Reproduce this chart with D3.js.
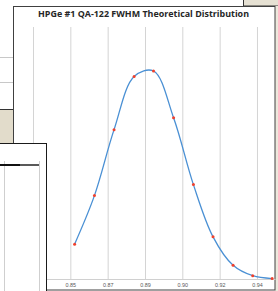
<!DOCTYPE html>
<html>
<head>
<meta charset="utf-8">
<script src="https://cdn.jsdelivr.net/npm/d3@7"></script>
<style>
  html, body { margin: 0; padding: 0; background: #fff; }
  svg { display: block; }
</style>
</head>
<body>
<div id="chart"></div>
<script>
// Datos (FWHM vs densidad teórica)
const fwhm = [0.8520, 0.8613, 0.8705, 0.8799, 0.8890, 0.8984, 0.9077, 0.9169, 0.9263, 0.9355, 0.9446];
const density = [3.8, 9.1, 16.3, 22.1, 22.7, 17.6, 10.3, 4.6, 1.5, 0.36, 0.05];
const tickValues = [0.8325, 0.85, 0.8675, 0.885, 0.9025, 0.92, 0.9375];
const tickLabels = ["0.83", "0.85", "0.87", "0.89", "0.90", "0.92", "0.94"];
const title = "HPGe #1 QA-122 FWHM Theoretical Distribution";

const W = 278, H = 291;
const svg = d3.select("#chart").append("svg")
    .attr("width", W).attr("height", H);

// Fondo de la ventana (izquierda y derecha)
svg.append("rect").attr("x", 0).attr("y", 0).attr("width", W).attr("height", H).attr("fill", "#fff");
svg.append("rect").attr("x", 243.5).attr("y", -1).attr("width", 40).attr("height", 7)
    .attr("fill", "#e6e1d3").attr("stroke", "#333");
svg.append("rect").attr("x", 275).attr("y", 6).attr("width", 3).attr("height", H)
    .attr("fill", "#ece8dc");
[57.5, 82.5].forEach(y => {
    svg.append("line").attr("x1", 0).attr("x2", 13).attr("y1", y).attr("y2", y)
        .attr("stroke", "#c8c8c8");
});
svg.append("rect").attr("x", -1).attr("y", 109.5).attr("width", 14.5).attr("height", 34)
    .attr("fill", "#e2dccb").attr("stroke", "#333");

// Marco del gráfico
svg.append("rect").attr("x", 13.5).attr("y", 6.5).attr("width", 261.5).attr("height", 283.5)
    .attr("fill", "#fff").attr("stroke", "#404040");

svg.append("text")
    .attr("x", 38).attr("y", 17)
    .attr("textLength", 211).attr("lengthAdjust", "spacingAndGlyphs")
    .style("font-family", "'Open Sans', 'Liberation Sans', sans-serif")
    .style("font-size", "8.6px").style("font-weight", "bold").style("fill", "#262626")
    .text(title);

// Escalas
const x = d3.scaleLinear().domain([0.8325, 0.94595]).range([33, 275]);
const y = d3.scaleLinear().domain([0, 27.5]).range([279, 27]);

// Rejilla vertical
const grid = svg.append("g")
    .attr("transform", `translate(0,${y(0)})`)
    .call(d3.axisBottom(x).tickValues(tickValues).tickSize(-(y(0) - y(27.5))).tickFormat(""));
grid.select(".domain").remove();
grid.selectAll(".tick line").attr("stroke", "#d4d4d4").attr("stroke-width", 1);

// Eje X
const axis = svg.append("g")
    .attr("transform", `translate(0,${y(0)})`)
    .call(d3.axisBottom(x).tickValues(tickValues).tickSize(0).tickPadding(4)
        .tickFormat((d, i) => tickLabels[i]));
axis.select(".domain").attr("stroke", "#d0d0d0");
axis.selectAll(".tick text")
    .style("font-family", "'Liberation Sans', Arial, sans-serif")
    .style("font-size", "5.4px").style("fill", "#595959");

// Curva
const pts = fwhm.map((v, i) => ({ x: v, y: density[i] }));
const line = d3.line().x(d => x(d.x)).y(d => y(d.y)).curve(d3.curveCatmullRom);
svg.append("path").datum(pts)
    .attr("d", line)
    .attr("fill", "none").attr("stroke", "#4a90d4").attr("stroke-width", 1.3);

svg.selectAll(".dot").data(pts).enter().append("circle")
    .attr("class", "dot")
    .attr("cx", d => x(d.x)).attr("cy", d => y(d.y)).attr("r", 1.5)
    .attr("fill", "#f0402c");

// Ventana superpuesta abajo a la izquierda
const win = svg.append("g");
win.append("rect").attr("x", -1).attr("y", 143.5).attr("width", 47.5).attr("height", 150)
    .attr("fill", "#fff").attr("stroke", "#1a1a1a").attr("stroke-width", 1);
[4.5, 39.5].forEach(xx => {
    win.append("line").attr("x1", xx).attr("x2", xx).attr("y1", 161).attr("y2", H)
        .attr("stroke", "#cfcfcf");
});
win.append("line").attr("x1", 0).attr("x2", 20).attr("y1", 165).attr("y2", 165)
    .attr("stroke", "#111").attr("stroke-width", 2);
win.append("line").attr("x1", 20).attr("x2", 39).attr("y1", 165).attr("y2", 165)
    .attr("stroke", "#222").attr("stroke-width", 1.5);
</script>
</body>
</html>
